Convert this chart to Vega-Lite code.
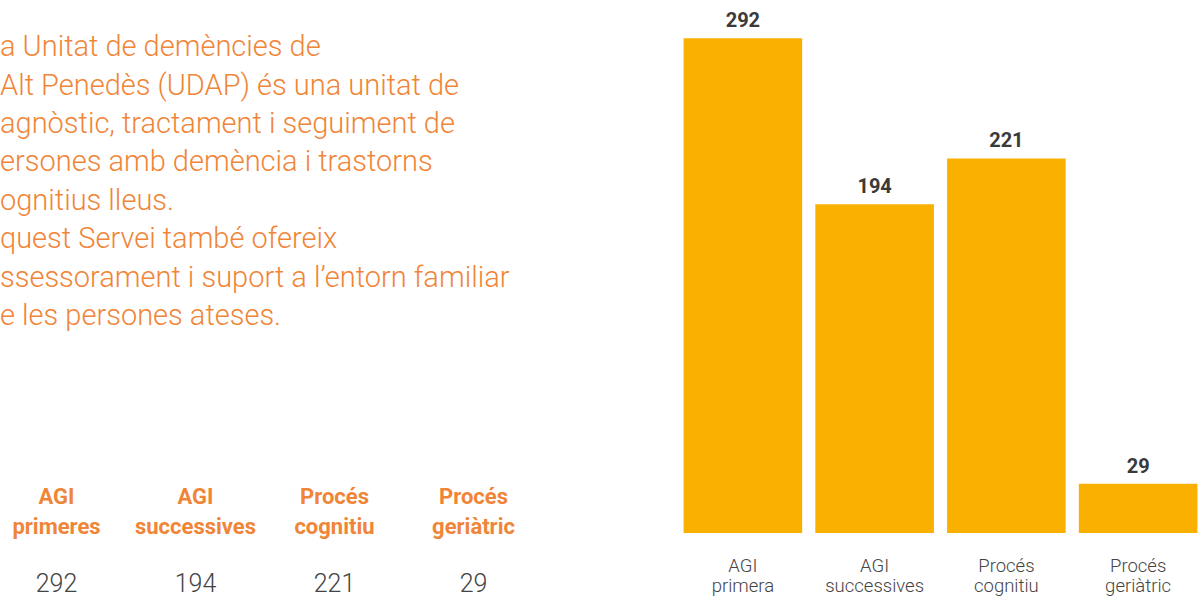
{
  "$schema": "https://vega.github.io/schema/vega-lite/v6.json",
  "width": 1199,
  "height": 597,
  "autosize": {"type": "none"},
  "padding": 0,
  "background": "white",
  "config": {"view": {"stroke": null}, "font": "Roboto"},
  "title": {
    "text": [
      "a Unitat de demències de",
      "Alt Penedès (UDAP) és una unitat de",
      "agnòstic, tractament i seguiment de",
      "ersones amb demència i trastorns",
      "ognitius lleus.",
      "quest Servei també ofereix",
      "ssessorament i suport a l’entorn familiar",
      "e les persones ateses."
    ],
    "anchor": "start",
    "frame": "group",
    "orient": "top",
    "offset": -331,
    "font": "Roboto",
    "fontSize": 29,
    "fontWeight": 300,
    "color": "#F08538",
    "lineHeight": 38.4
  },
  "datasets": {
    "barres": [
      {"categoria": "AGI primera", "valor": 292},
      {"categoria": "AGI successives", "valor": 194},
      {"categoria": "Procés cognitiu", "valor": 221},
      {"categoria": "Procés geriàtric", "valor": 29}
    ],
    "taula": [
      {"columna": "AGI primeres", "valor": 292},
      {"columna": "AGI successives", "valor": 194},
      {"columna": "Procés cognitiu", "valor": 221},
      {"columna": "Procés geriàtric", "valor": 29}
    ]
  },
  "layer": [
    {
      "data": {"name": "barres"},
      "encoding": {
        "x": {
          "field": "categoria",
          "type": "nominal",
          "sort": null,
          "scale": {"type": "band", "range": [677, 1204], "paddingInner": 0.1, "paddingOuter": 0.05},
          "axis": {
            "orient": "bottom",
            "offset": -64,
            "title": null,
            "domain": false,
            "ticks": false,
            "grid": false,
            "labelAngle": 0,
            "labelPadding": 23,
            "labelFont": "Roboto",
            "labelFontSize": 18.5,
            "labelFontWeight": 300,
            "labelColor": "#444444",
            "labelLineHeight": 20,
            "labelExpr": "split(datum.label, ' ')"
          }
        },
        "y": {
          "field": "valor",
          "type": "quantitative",
          "scale": {"domain": [0, 314.5], "range": [533, 0], "nice": false, "zero": true},
          "axis": null
        }
      },
      "layer": [
        {"mark": {"type": "bar", "color": "#F9B000"}},
        {
          "mark": {"type": "text", "baseline": "alphabetic", "align": "center", "dy": -11, "fontSize": 20, "fontWeight": 700, "color": "#3A3A3A", "font": "Roboto"},
          "encoding": {"text": {"field": "valor", "type": "quantitative"}}
        }
      ]
    },
    {
      "data": {"name": "taula"},
      "encoding": {
        "x": {
          "field": "columna",
          "type": "nominal",
          "sort": null,
          "scale": {"type": "band", "range": [-13, 543], "paddingInner": 0, "paddingOuter": 0},
          "axis": null
        }
      },
      "layer": [
        {
          "mark": {"type": "text", "lineBreak": " ", "lineHeight": 30, "fontSize": 22, "fontWeight": 700, "color": "#F08538", "baseline": "alphabetic", "align": "center", "font": "Roboto"},
          "encoding": {
            "y": {"datum": "capçalera", "type": "nominal", "scale": {"type": "point", "domain": ["capçalera", "valor"], "range": [504, 592], "padding": 0}, "axis": null},
            "text": {"field": "columna", "type": "nominal"}
          }
        },
        {
          "mark": {"type": "text", "fontSize": 25, "fontWeight": 300, "color": "#444444", "baseline": "alphabetic", "align": "center", "font": "Roboto"},
          "encoding": {
            "y": {"datum": "valor", "type": "nominal"},
            "text": {"field": "valor", "type": "quantitative"}
          }
        }
      ],
      "resolve": {"scale": {"y": "shared"}}
    }
  ],
  "resolve": {"scale": {"x": "independent", "y": "independent"}, "axis": {"x": "independent", "y": "independent"}}
}
